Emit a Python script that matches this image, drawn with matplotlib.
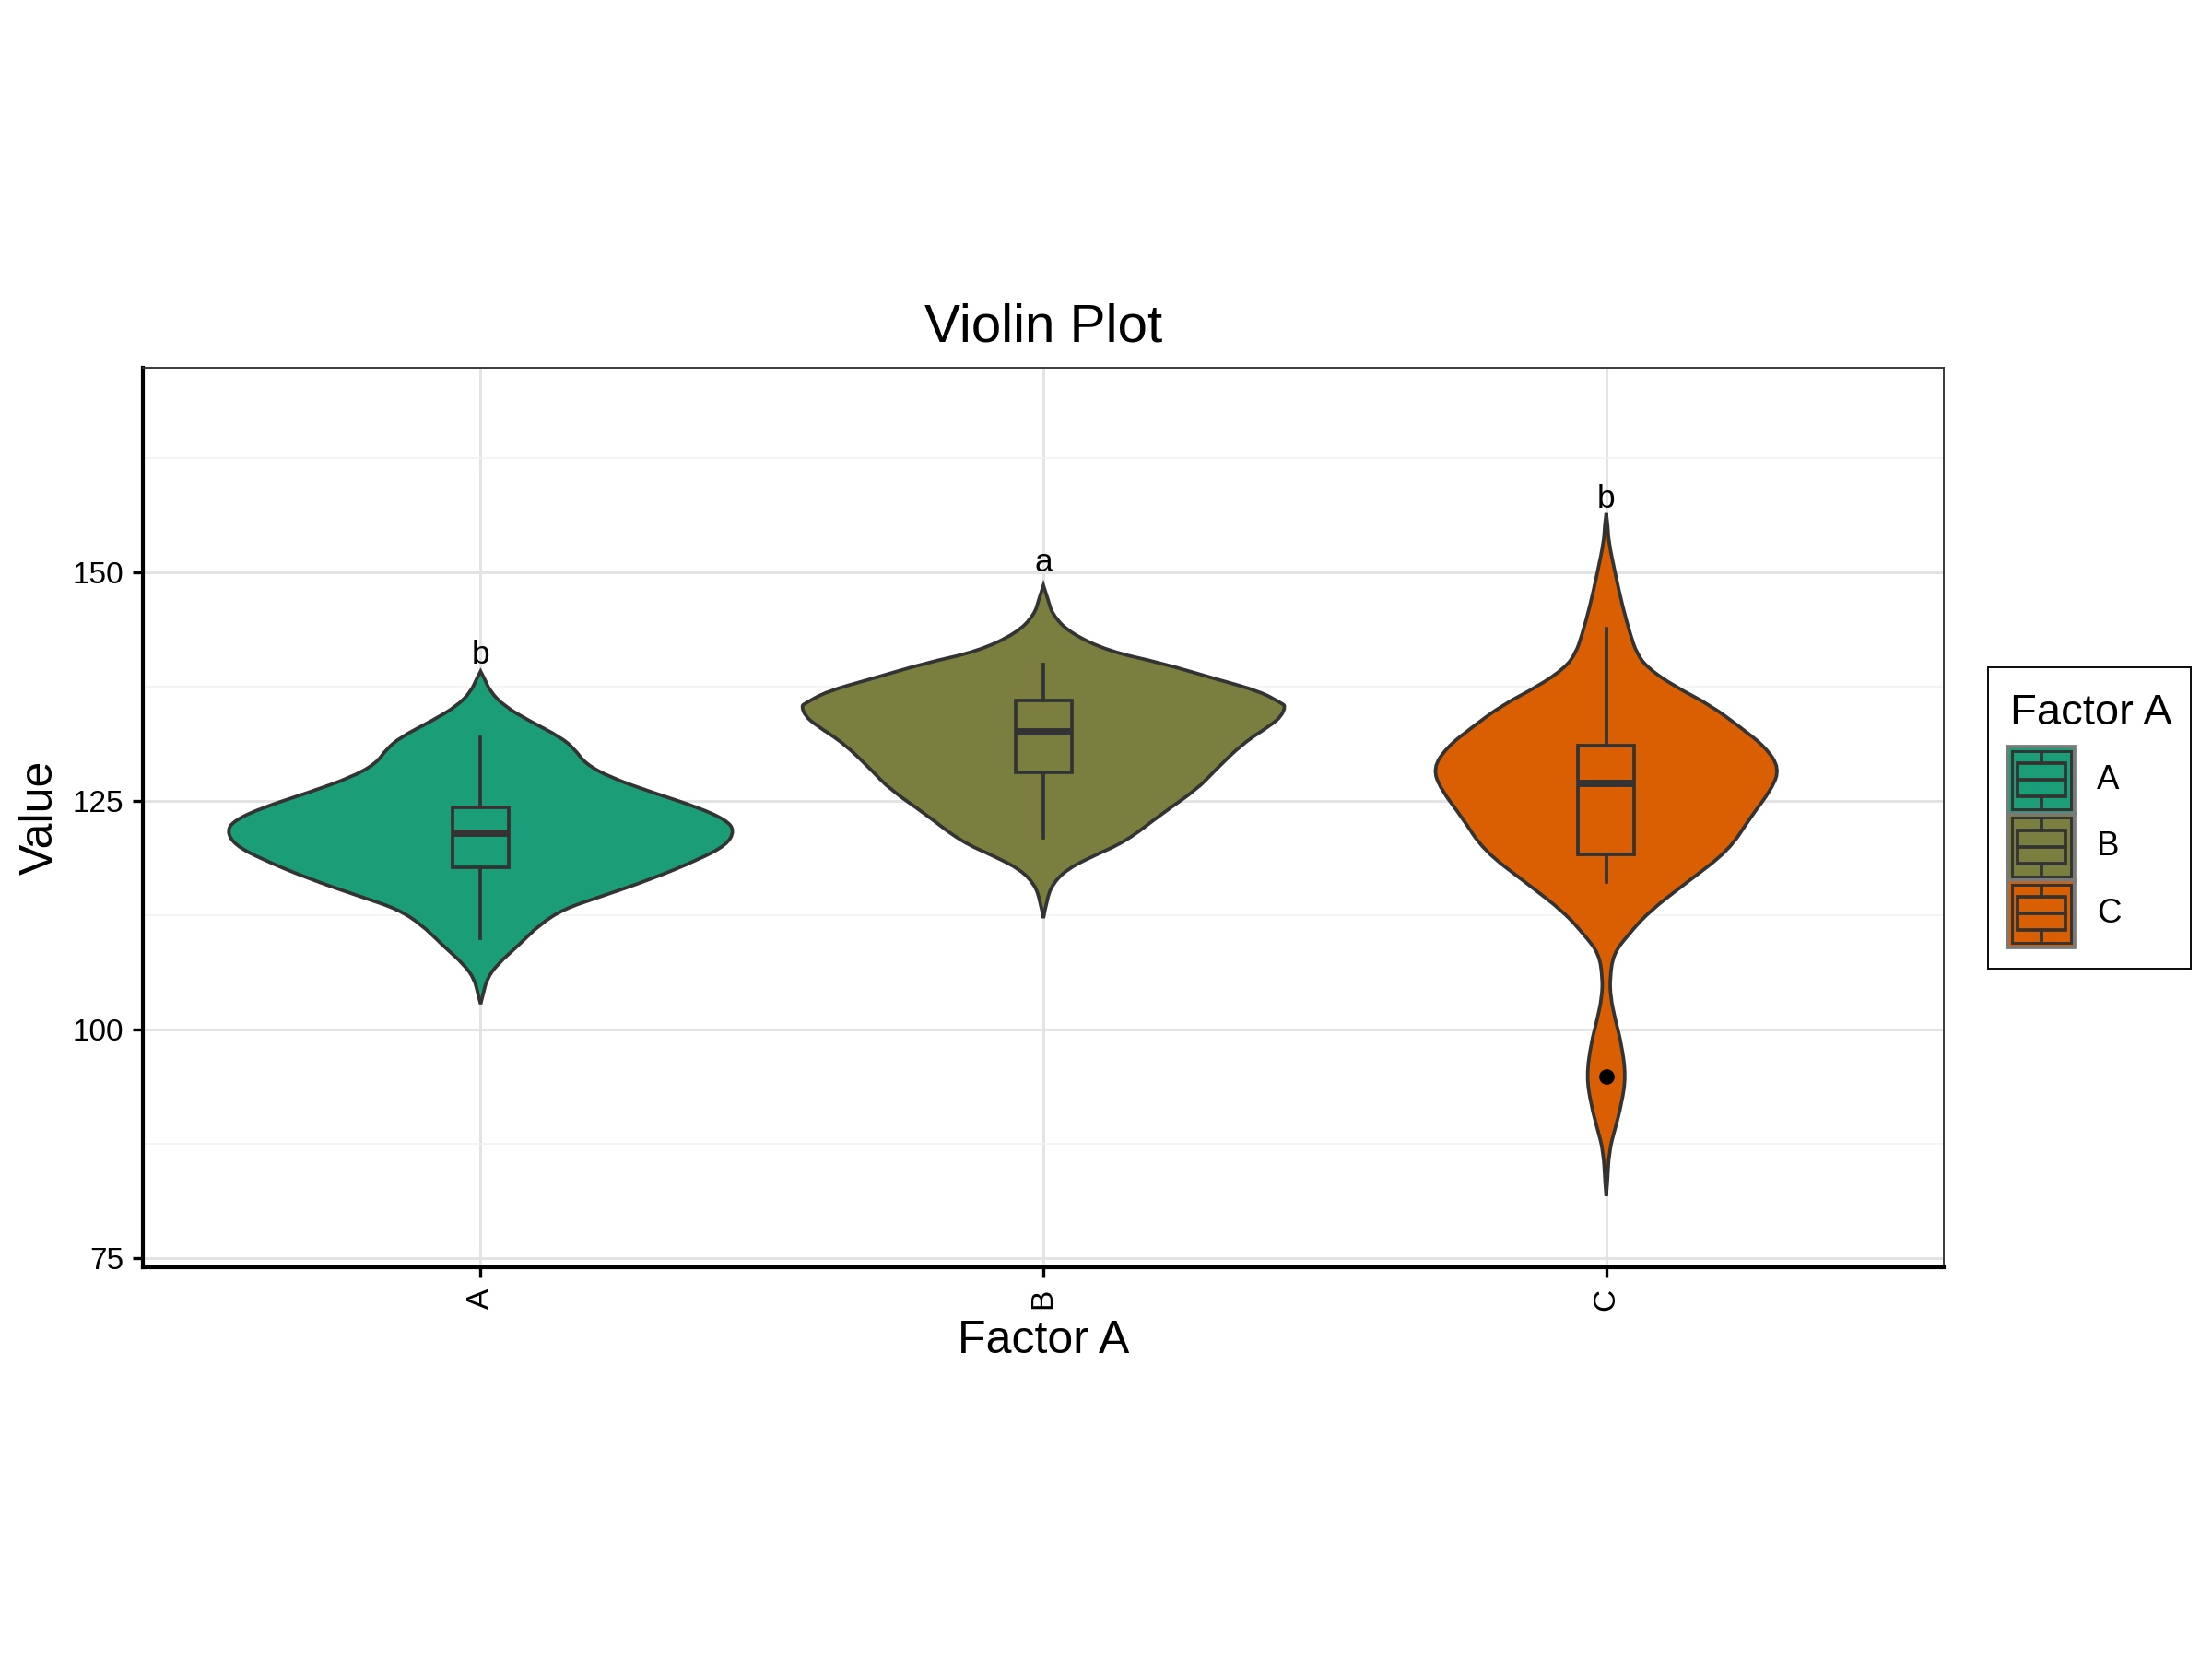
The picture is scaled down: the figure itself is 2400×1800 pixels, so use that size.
import numpy as np
import matplotlib
matplotlib.use("Agg")
import matplotlib.pyplot as plt
from matplotlib.patches import Rectangle, PathPatch
from matplotlib.path import Path

plt.rcParams['font.family'] = ['Liberation Sans', 'DejaVu Sans']

groups = ["A", "B", "C"]
colors = ["#1B9E77", "#7A7E3E", "#D95F02"]
edge = "#333333"

# violin outlines: value and half width (category units)
violin_A_y = [139.2, 138.4, 137.0, 135.4, 133.8, 132.0, 130.7, 129.1, 127.6, 125.95, 124.3,
              122.9, 121.75, 120.2, 118.6, 116.5, 114.5, 113.2, 111.5, 109.2, 107.1, 105.5,
              104.0, 102.8]
violin_A_w = [0.0, 0.007, 0.017, 0.042, 0.086, 0.142, 0.167, 0.186, 0.230, 0.305, 0.387,
              0.437, 0.451, 0.437, 0.387, 0.305, 0.211, 0.148, 0.105, 0.067, 0.029, 0.011,
              0.005, 0.0]

violin_B_y = [148.6, 147.1, 145.4, 143.4, 141.4, 140.1, 138.4, 137.0, 135.7, 135.4, 134.3,
              133.3, 131.3, 128.3, 126.3, 123.6, 120.6, 118.9, 117.5, 115.9, 114.2, 112.2]
violin_B_w = [0.0, 0.008, 0.016, 0.047, 0.116, 0.210, 0.304, 0.385, 0.423, 0.430, 0.423,
              0.404, 0.354, 0.304, 0.273, 0.210, 0.147, 0.085, 0.041, 0.016, 0.006, 0.0]

violin_C_y = [156.5, 155.1, 153.5, 149.9, 146.3, 143.2, 141.2, 139.6, 137.6, 135.5, 133.0,
              130.9, 128.6, 126.3, 123.2, 119.6, 116.0, 112.9, 110.3, 108.3, 105.7, 103.6,
              101.1, 98.5, 94.9, 91.8, 89.2, 86.7, 83.1, 81.8]
violin_C_w = [0.0, 0.003, 0.004, 0.016, 0.029, 0.043, 0.054, 0.073, 0.120, 0.185, 0.240,
              0.283, 0.308, 0.294, 0.256, 0.218, 0.141, 0.076, 0.038, 0.013, 0.0066, 0.0076,
              0.016, 0.027, 0.035, 0.027, 0.016, 0.005, 0.002, 0.0]

violin_y = [violin_A_y, violin_B_y, violin_C_y]
violin_w = [violin_A_w, violin_B_w, violin_C_w]

# boxplot stats
box_q1 = [117.8, 128.1, 119.2]
box_med = [121.5, 132.6, 126.9]
box_q3 = [124.3, 136.0, 131.1]
whisk_lo = [110.0, 121.0, 116.1]
whisk_hi = [132.0, 139.9, 143.9]
outliers = [[], [], [94.9]]

letters = ["b", "a", "b"]
letter_y = [140.0, 150.15, 157.1]


def side_path(pts):
    # quadratic curve through the read points, ends kept sharp
    verts = [pts[0]]
    codes = [Path.MOVETO]
    n = len(pts)
    for k in range(1, n - 1):
        if k == n - 2:
            end = pts[k + 1]
        else:
            end = ((pts[k][0] + pts[k + 1][0]) / 2, (pts[k][1] + pts[k + 1][1]) / 2)
        verts += [pts[k], end]
        codes += [Path.CURVE3, Path.CURVE3]
    return verts, codes


fig = plt.figure(figsize=(8, 6), dpi=300)
ax = fig.add_axes([0.0646, 0.2361, 0.8142, 0.5422])

for i in range(len(groups)):
    y = np.array(violin_y[i])
    w = np.array(violin_w[i])
    x = i + 1
    right = list(zip(x + w, y))
    left = list(zip(x - w, y))[::-1]
    v1, c1 = side_path(right)
    v2, c2 = side_path(left)
    c2[0] = Path.LINETO
    verts = v1 + v2 + [right[0]]
    codes = c1 + c2 + [Path.CLOSEPOLY]
    ax.add_patch(PathPatch(Path(verts, codes), facecolor=colors[i], edgecolor=edge,
                           lw=0.9, zorder=2))

stats = []
for i, g in enumerate(groups):
    stats.append(dict(label=g, q1=box_q1[i], med=box_med[i], q3=box_q3[i],
                      whislo=whisk_lo[i], whishi=whisk_hi[i], fliers=outliers[i]))

bp = ax.bxp(stats, positions=[1, 2, 3], widths=0.1, patch_artist=True, showcaps=False,
            boxprops=dict(edgecolor=edge, lw=0.9),
            whiskerprops=dict(color=edge, lw=0.9),
            medianprops=dict(color=edge, lw=1.9),
            flierprops=dict(marker='o', markerfacecolor='black', markeredgecolor='black',
                            markersize=3),
            zorder=3)
for patch, c in zip(bp['boxes'], colors):
    patch.set_facecolor(c)

for i in range(len(groups)):
    ax.text(i + 1, letter_y[i], letters[i], ha='center', va='baseline', fontsize=8.5, zorder=4)

ax.set_xlim(0.4, 3.6)
ax.set_ylim(74.0, 172.4)
ax.set_xticks([1, 2, 3], groups, rotation=90)
ax.set_yticks([75, 100, 125, 150])
ax.set_yticks([87.5, 112.5, 137.5, 162.5], minor=True)
ax.tick_params(axis='y', which='minor', length=0)
ax.tick_params(which='major', length=2.75, width=0.8, color='black', labelsize=8,
               labelcolor='black')
ax.tick_params(axis='y', pad=2.2)
ax.tick_params(axis='x', pad=2.8)
ax.grid(which='major', color='#E3E3E3', lw=0.7)
ax.grid(which='minor', axis='y', color='#F2F2F2', lw=0.4)
ax.set_axisbelow(True)
for s in ['left', 'bottom']:
    ax.spines[s].set_color('black')
    ax.spines[s].set_linewidth(1.0)
for s in ['top', 'right']:
    ax.spines[s].set_color(edge)
    ax.spines[s].set_linewidth(0.45)

fig.text(1132 / 2400, 0.7944, "Violin Plot", ha='center', va='baseline', fontsize=14)
fig.text(1132 / 2400, 0.1843, "Factor A", ha='center', va='baseline', fontsize=12)
fig.text(0.0181, 0.5072, "Value", ha='center', va='center', rotation=90, fontsize=12)

# legend drawn by hand, in pixel units of its own box
lax = fig.add_axes([2156 / 2400, 1 - 1051 / 1800, 221 / 2400, 328 / 1800])
lax.set_xlim(0, 221)
lax.set_ylim(328, 0)
lax.axis('off')
lax.add_patch(Rectangle((0.5, 0.5), 220, 327, facecolor='white', edgecolor='black',
                        lw=0.45, clip_on=False))
lax.text(24.7, 63, "Factor A", fontsize=11.3, va='baseline', ha='left')
key_h = 72.5
for i, g in enumerate(groups):
    top = 87 + i * key_h
    lax.add_patch(Rectangle((22, top), 73, key_h, facecolor=colors[i], edgecolor='#7A7A7A',
                            lw=0.9))
    lax.add_patch(Rectangle((26.5, top + 4.5), 64, key_h - 9, facecolor='none',
                            edgecolor=edge, lw=0.7))
    lax.add_patch(Rectangle((32.5, top + 0.25 * key_h), 52, 0.5 * key_h, facecolor='none',
                            edgecolor=edge, lw=0.9))
    lax.plot([32.5, 84.5], [top + 0.5 * key_h] * 2, color=edge, lw=0.9)
    lax.plot([58.5, 58.5], [top + 0.1 * key_h, top + 0.25 * key_h], color=edge, lw=0.9)
    lax.plot([58.5, 58.5], [top + 0.75 * key_h, top + 0.9 * key_h], color=edge, lw=0.9)
    lax.text(119, top + key_h / 2, g, fontsize=8.8, va='center', ha='left')

fig.savefig("out.png", dpi=300)
